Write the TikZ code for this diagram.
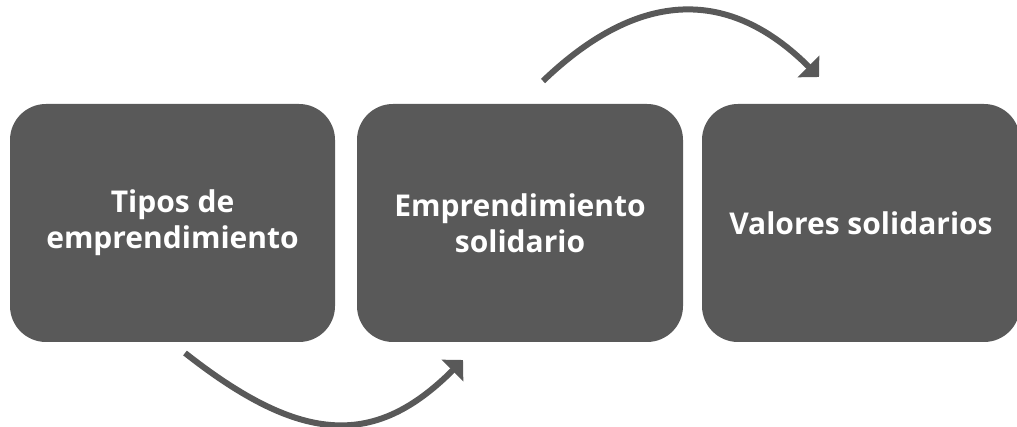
\documentclass[tikz,border=0pt]{standalone}
\usepackage{fontspec}
\setmainfont{Open Sans}
\usetikzlibrary{arrows.meta}
\definecolor{boxgray}{HTML}{595959}
\begin{document}
\begin{tikzpicture}[x=1pt,y=-1pt,
  card/.style={fill=boxgray, draw=none, rounded corners=36pt, text=white,
    font=\fontsize{30}{36}\selectfont\bfseries, align=center,
    minimum height=238pt, inner sep=0pt},
  flow/.style={draw=boxgray, line width=6pt,
    -{Triangle[length=15pt,width=30pt]}}]
\useasboundingbox (0,0) rectangle (1017,427);
\node[card, minimum width=325pt] (b1) at (172.5,223) {Tipos de\\emprendimiento};
\node[card, minimum width=326pt] (b2) at (520,223) {Emprendimiento\\solidario};
\node[card, minimum width=318pt] (b3) at (861,223) {Valores solidarios};
\coordinate (a1s) at (185,353);
\coordinate (a1e) at (463,360);
\coordinate (a2s) at (543,81);
\coordinate (a2e) at (819,77);
\draw[flow] (a1s) .. controls (303,446) and (376,447) .. (a1e);
\draw[flow] (a2s) .. controls (640,-12) and (730,-12) .. (a2e);
\end{tikzpicture}
\end{document}
